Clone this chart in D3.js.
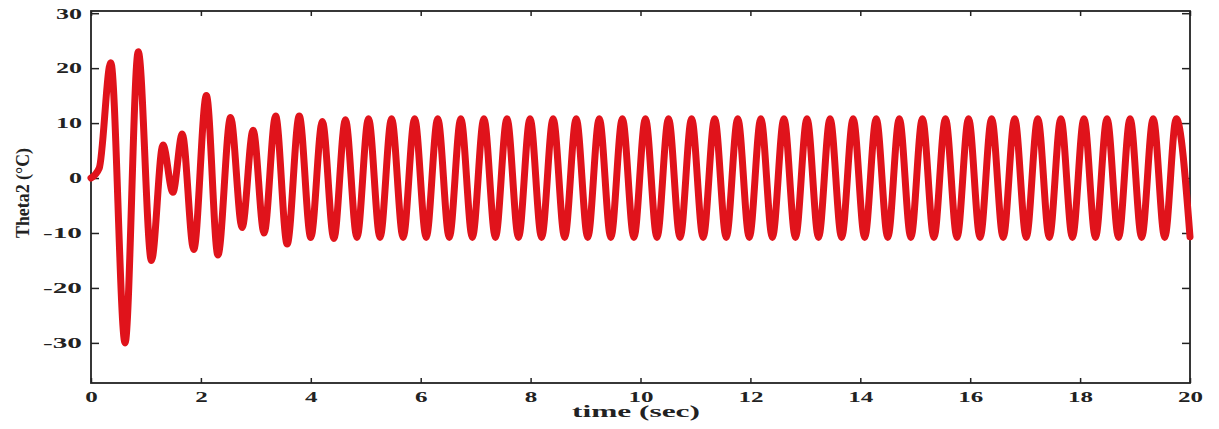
<!DOCTYPE html>
<html>
<head>
<meta charset="utf-8">
<script src="https://cdn.jsdelivr.net/npm/d3@7"></script>
<style>
  html, body { margin: 0; padding: 0; background: #fff; }
  svg { display: block; }
  .tick text { font-family: "Liberation Serif", "Times New Roman", serif; font-weight: bold; font-size: 15px; fill: #222; }
  .tick line { stroke: #222; stroke-width: 1.5; }
</style>
</head>
<body>
<svg id="chart" width="1219" height="429"></svg>
<script>
// time (sec) of each turning point of the trace
var timeValues = [
  0, 0.15, 0.36, 0.62, 0.86, 1.10, 1.31, 1.49, 1.66, 1.87, 2.10, 2.31, 2.54, 2.75, 2.95, 3.15,
  3.36, 3.57, 3.79, 4.00, 4.21, 4.42, 4.63,
  4.84, 5.05, 5.26, 5.47, 5.68, 5.89, 6.10, 6.31, 6.52, 6.73, 6.94, 7.15, 7.36, 7.57, 7.78, 7.99,
  8.20, 8.41, 8.62, 8.83, 9.04, 9.25, 9.46, 9.67, 9.88, 10.09, 10.30, 10.51, 10.72, 10.93, 11.14, 11.35,
  11.56, 11.77, 11.98, 12.19, 12.40, 12.61, 12.82, 13.03, 13.24, 13.45, 13.66, 13.87, 14.08, 14.29, 14.50, 14.71,
  14.92, 15.13, 15.34, 15.55, 15.76, 15.97, 16.18, 16.39, 16.60, 16.81, 17.02, 17.23, 17.44, 17.65, 17.86, 18.07,
  18.28, 18.49, 18.70, 18.91, 19.12, 19.33, 19.54, 19.75, 20.00
];

// Theta2 (°C) at those times
var thetaValues = [
  0, 1.8, 21, -30, 23, -15, 6, -2.6, 8, -13, 15, -14, 11, -9, 8.7, -10,
  11.3, -12, 11.3, -10.8, 10.3, -11, 10.6,
  -10.8, 10.8, -10.8, 10.8, -10.8, 10.8, -10.8, 10.8, -10.8, 10.8, -10.8, 10.8, -10.8, 10.8, -10.8, 10.8,
  -10.8, 10.8, -10.8, 10.8, -10.8, 10.8, -10.8, 10.8, -10.8, 10.8, -10.8, 10.8, -10.8, 10.8, -10.8, 10.8,
  -10.8, 10.8, -10.8, 10.8, -10.8, 10.8, -10.8, 10.8, -10.8, 10.8, -10.8, 10.8, -10.8, 10.8, -10.8, 10.8,
  -10.8, 10.8, -10.8, 10.8, -10.8, 10.8, -10.8, 10.8, -10.8, 10.8, -10.8, 10.8, -10.8, 10.8, -10.8, 10.8,
  -10.8, 10.8, -10.8, 10.8, -10.8, 10.8, -10.8, 10.8, -10.7
];

var xTicks = [0, 2, 4, 6, 8, 10, 12, 14, 16, 18, 20];
var yTicks = [-30, -20, -10, 0, 10, 20, 30];
var yTickLabels = ["-30", "-20", "-10", "0", "10", "20", "30"];

var svg = d3.select("#chart");

// plot frame
var LEFT = 91, RIGHT = 1190, TOP = 11, BOTTOM = 383;

var x = d3.scaleLinear().domain([0, 20]).range([LEFT, RIGHT]);
var y = d3.scaleLinear().domain([-37.3, 30.4]).range([BOTTOM, TOP]);

// bottom axis, ticks pointing in
var gx = svg.append("g")
  .attr("transform", "translate(0," + BOTTOM + ")")
  .call(d3.axisBottom(x).tickValues(xTicks).tickSizeInner(-5).tickSizeOuter(0).tickPadding(8));
gx.select(".domain").remove();
gx.selectAll(".tick text").each(function() {
  var t = d3.select(this);
  t.attr("textLength", t.text().length * 12.5).attr("lengthAdjust", "spacingAndGlyphs");
});

// top axis, ticks only
var gxt = svg.append("g")
  .attr("transform", "translate(0," + TOP + ")")
  .call(d3.axisTop(x).tickValues(xTicks).tickSizeInner(-5).tickSizeOuter(0).tickFormat(""));
gxt.select(".domain").remove();

// left axis
var gy = svg.append("g")
  .attr("transform", "translate(" + LEFT + ",0)")
  .call(d3.axisLeft(y).tickValues(yTicks).tickSizeInner(-8).tickSizeOuter(0).tickPadding(9)
    .tickFormat(function(d, i) { return yTickLabels[i]; }));
gy.select(".domain").remove();
gy.selectAll(".tick text").each(function() {
  var t = d3.select(this);
  t.attr("textLength", t.text().length * 13).attr("lengthAdjust", "spacingAndGlyphs");
});

// right axis, ticks only
var gyr = svg.append("g")
  .attr("transform", "translate(" + RIGHT + ",0)")
  .call(d3.axisRight(y).tickValues(yTicks).tickSizeInner(-8).tickSizeOuter(0).tickFormat(""));
gyr.select(".domain").remove();

// box
svg.append("rect")
  .attr("x", LEFT)
  .attr("y", TOP)
  .attr("width", RIGHT - LEFT)
  .attr("height", BOTTOM - TOP)
  .attr("fill", "none")
  .attr("stroke", "#222")
  .attr("stroke-width", 1.8);

// trace
var line = d3.line()
  .x(function(d, i) { return x(timeValues[i]); })
  .y(function(d) { return y(d); })
  .curve(d3.curveMonotoneX);

svg.append("path")
  .datum(thetaValues)
  .attr("d", line)
  .attr("fill", "none")
  .attr("stroke", "#e0131b")
  .attr("stroke-width", 7)
  .attr("stroke-linejoin", "round")
  .attr("stroke-linecap", "round");

// axis titles
svg.append("text")
  .attr("x", 636)
  .attr("y", 417)
  .attr("text-anchor", "middle")
  .attr("textLength", 128)
  .attr("lengthAdjust", "spacingAndGlyphs")
  .style("font-family", "'Liberation Serif', 'Times New Roman', serif")
  .style("font-weight", "bold")
  .style("font-size", "16px")
  .style("fill", "#222")
  .text("time (sec)");

svg.append("text")
  .attr("transform", "translate(29,193) rotate(-90)")
  .attr("text-anchor", "middle")
  .attr("textLength", 90)
  .attr("lengthAdjust", "spacingAndGlyphs")
  .style("font-family", "'Liberation Serif', 'Times New Roman', serif")
  .style("font-weight", "bold")
  .style("font-size", "18px")
  .style("fill", "#222")
  .text("Theta2 (°C)");
</script>
</body>
</html>
